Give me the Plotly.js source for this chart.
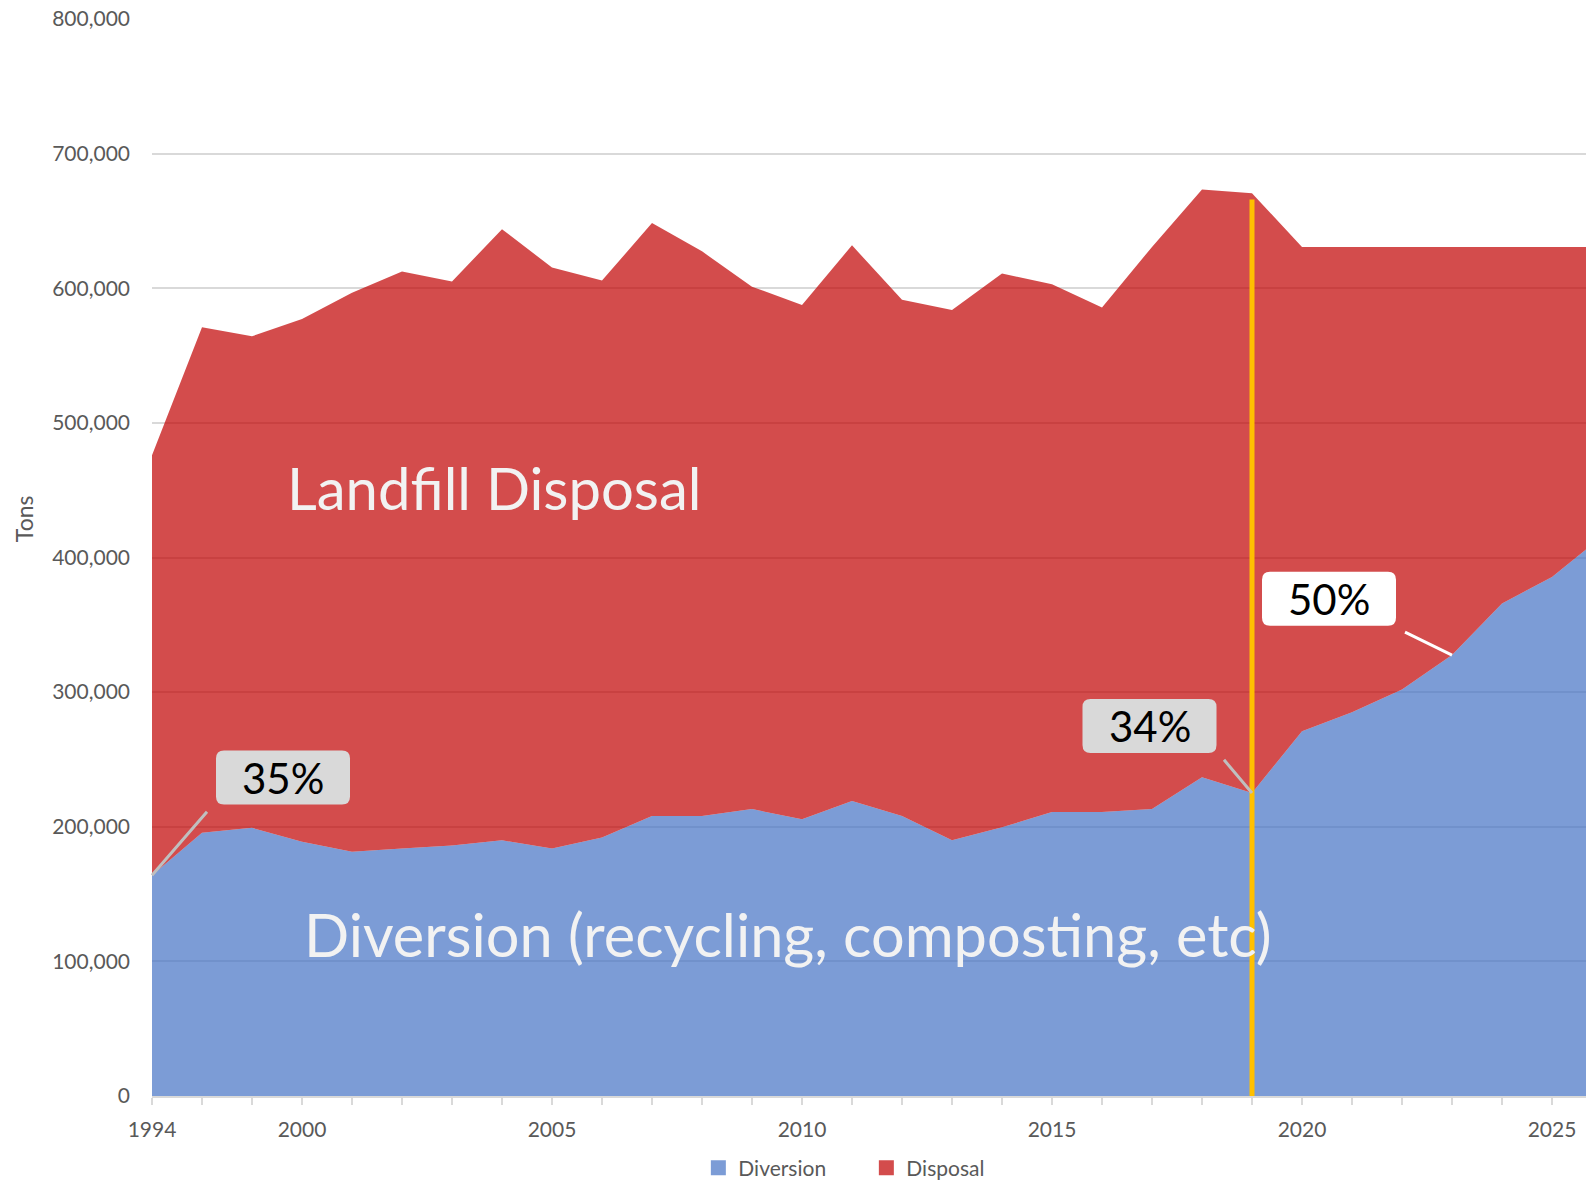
<!DOCTYPE html>
<html>
<head>
<meta charset="utf-8">
<script src="https://cdn.plot.ly/plotly-3.0.1.min.js"></script>
<style>
  html, body { margin: 0; padding: 0; background: #ffffff; }
  #chart { width: 1586px; height: 1181px; }
</style>
</head>
<body>
<div id="chart"></div>
<script>
// ---- Data ----
const years = ['1994','1998','1999','2000','2001','2002','2003','2004','2005','2006',
               '2007','2008','2009','2010','2011','2012','2013','2014','2015','2016',
               '2017','2018','2019','2020','2021','2022','2023','2024','2025','2026'];
const labeledYears = ['1994','2000','2005','2010','2015','2020','2025'];

const diversion = [164000,195500,199200,188800,181400,183900,186100,189900,183900,192100,
                   207900,207900,213100,205600,219100,207900,189900,199600,210900,210900,
                   213100,236700,225000,271000,285000,302000,327500,365900,385600,415600];

const disposal  = [312000,375600,365100,388300,415200,428500,418900,454000,431500,413600,
                   440500,419500,388100,382000,412800,383500,394000,411400,392100,374800,
                   417600,436600,445600,359700,345700,328700,303200,264800,245100,215100];

const seriesNames = ['Diversion', 'Disposal'];
const markerYear = '2019';
const markerTop = 666000;

const pctLabels = [
  {text: '35%', year: '1994', bg: '#D9D9D9', line: '#BFBFBF'},
  {text: '34%', year: '2019', bg: '#D9D9D9', line: '#BFBFBF'},
  {text: '50%', year: '2023', bg: '#FFFFFF', line: '#FFFFFF'}
];
const areaLabels = ['Landfill Disposal', 'Diversion (recycling, composting, etc)'];

// ---- Styles ----
const FONT = 'Lato, "Open Sans", sans-serif';
const GREY = '#595959';
const BLUE = 'rgba(68,114,196,0.7)';
const RED = 'rgba(192,0,0,0.7)';

const idx = y => years.indexOf(y);

const traces = [
  {x: years, y: diversion, type: 'scatter', mode: 'none', stackgroup: 'one',
   fillcolor: BLUE, line: {width: 0}, name: seriesNames[0], showlegend: false, hoverinfo: 'x+y'},
  {x: years, y: disposal, type: 'scatter', mode: 'none', stackgroup: 'one',
   fillcolor: RED, line: {width: 0}, name: seriesNames[1], showlegend: false, hoverinfo: 'x+y'},
  {x: [null], y: [null], type: 'scatter', mode: 'markers', name: seriesNames[0],
   marker: {symbol: 'square', size: 15, color: BLUE}},
  {x: [null], y: [null], type: 'scatter', mode: 'markers', name: seriesNames[1],
   marker: {symbol: 'square', size: 15, color: RED}}
];

// box positions (category index, value) and pointer offsets (px)
const boxPos = [[2.62, 236500], [19.95, 274800], [23.54, 369300]];
const pointer = [[59, -68], [-32, -38], [-51, -25]];

function roundRect(w, h, r) {
  const x = w / 2, y = h / 2;
  return `M ${-x + r},${-y} L ${x - r},${-y} Q ${x},${-y} ${x},${-y + r} L ${x},${y - r} Q ${x},${y} ${x - r},${y} ` +
         `L ${-x + r},${y} Q ${-x},${y} ${-x},${y - r} L ${-x},${-y + r} Q ${-x},${-y} ${-x + r},${-y} Z`;
}

const shapes = [
  {type: 'line', xref: 'x', yref: 'y', x0: idx(markerYear), x1: idx(markerYear), y0: 0, y1: markerTop,
   line: {color: '#FFC000', width: 5}, layer: 'above'}
];
const annotations = [];

pctLabels.forEach((p, i) => {
  shapes.push({type: 'path', xref: 'x', yref: 'y', xsizemode: 'pixel', ysizemode: 'pixel',
               xanchor: boxPos[i][0], yanchor: boxPos[i][1], path: roundRect(134, 54, 8),
               fillcolor: p.bg, line: {width: 0}, layer: 'above'});
  annotations.push({x: boxPos[i][0], y: boxPos[i][1], xref: 'x', yref: 'y', text: p.text, showarrow: false,
                    font: {family: FONT, size: 42, color: '#000000'}});
  const k = idx(p.year);
  annotations.push({x: k, y: diversion[k], xref: 'x', yref: 'y', text: ' ', showarrow: true,
                    arrowhead: 0, arrowwidth: 3, arrowcolor: p.line, ax: pointer[i][0], ay: pointer[i][1],
                    standoff: 0, startstandoff: 0});
});

annotations.push({x: 6.84, y: 452000, xref: 'x', yref: 'y', text: areaLabels[0], showarrow: false,
                  font: {family: FONT, size: 58, color: '#F2F2F2'}});
annotations.push({x: 12.71, y: 120500, xref: 'x', yref: 'y', text: areaLabels[1], showarrow: false,
                  font: {family: FONT, size: 59.5, color: '#F2F2F2'}});
annotations.push({x: -0.0893, y: 0.5365, xref: 'paper', yref: 'paper', xanchor: 'center', yanchor: 'middle',
                  text: 'Tons', showarrow: false,
                  textangle: -90, font: {family: FONT, size: 23, color: GREY}});

const layout = {
  width: 1586, height: 1181,
  margin: {l: 152, r: 0, t: 19, b: 85, autoexpand: false},
  paper_bgcolor: '#ffffff', plot_bgcolor: '#ffffff',
  font: {family: FONT, size: 20, color: GREY},
  xaxis: {
    type: 'category', range: [0, 28.68],
    tickmode: 'array', tickvals: years,
    ticktext: years.map(y => labeledYears.includes(y) ? y : ''),
    ticks: 'outside', ticklen: 7, tickwidth: 2, tickcolor: '#D9D9D9',
    showline: true, linecolor: '#D9D9D9', linewidth: 2,
    showgrid: false, zeroline: false,
    tickfont: {family: FONT, size: 21, color: GREY},
    ticklabelstandoff: 7
  },
  yaxis: {
    range: [0, 800000],
    tickmode: 'array',
    tickvals: [0,100000,200000,300000,400000,500000,600000,700000,800000],
    tickformat: ',d',
    showgrid: true, gridcolor: '#D9D9D9', gridwidth: 2,
    zeroline: false, showline: false, ticks: '',
    tickfont: {family: FONT, size: 21, color: GREY},
    ticklabelstandoff: 21
  },
  showlegend: true,
  legend: {orientation: 'h', traceorder: 'normal', x: 0.381, xanchor: 'left', y: -0.067, yanchor: 'middle',
           font: {family: FONT, size: 21, color: GREY}, entrywidth: 123, bgcolor: 'rgba(0,0,0,0)'},
  shapes: shapes,
  annotations: annotations
};

Plotly.newPlot('chart', traces, layout, {displayModeBar: false, staticPlot: true});
</script>
</body>
</html>
